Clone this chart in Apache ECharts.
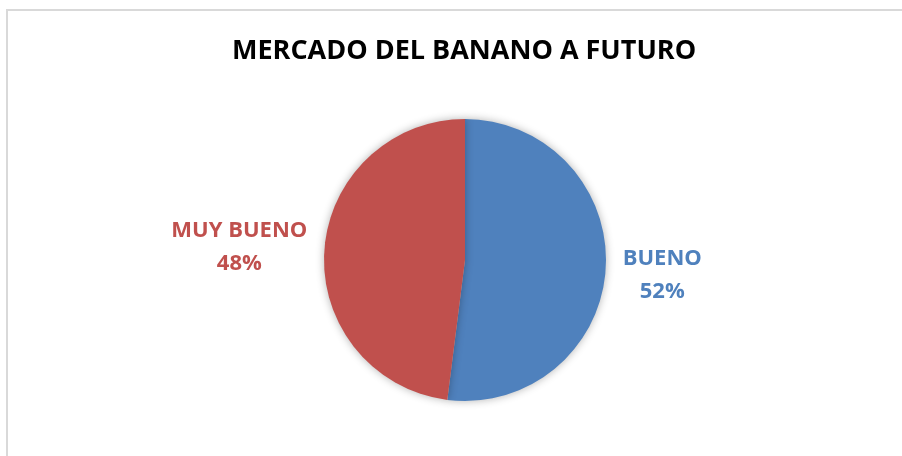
<!DOCTYPE html>
<html>
<head>
<meta charset="utf-8">
<script src="https://cdn.jsdelivr.net/npm/echarts@6/dist/echarts.min.js"></script>
<style>
  html, body { margin: 0; padding: 0; background: #fff; }
  #chart { width: 902px; height: 456px; }
</style>
</head>
<body>
<div id="chart"></div>
<script>
const categories = ['BUENO', 'MUY BUENO'];
const shares = [52, 48];
const colors = ['#4F81BD', '#C0504D'];
// small vertical nudges so labels sit where Excel put them
const labelNudge = [6, -3];

const chart = echarts.init(document.getElementById('chart'));

chart.setOption({
  backgroundColor: '#fff',
  animation: false,
  graphic: [{
    type: 'rect',
    silent: true,
    shape: { x: 7, y: 10, width: 1000, height: 1000 },
    style: { fill: 'none', stroke: '#d9d9d9', lineWidth: 2 }
  }],
  title: {
    text: 'MERCADO DEL BANANO A FUTURO',
    left: 227,
    top: 33,
    textStyle: {
      fontFamily: 'Open Sans',
      fontWeight: 'bold',
      fontSize: 27,
      color: '#000'
    }
  },
  series: [{
    type: 'pie',
    center: [465, 260],
    radius: 141,
    startAngle: 90,
    clockwise: true,
    data: categories.map((name, i) => ({
      name,
      value: shares[i],
      itemStyle: { color: colors[i] },
      label: { color: colors[i] }
    })),
    itemStyle: {
      borderWidth: 0,
      shadowBlur: 8,
      shadowColor: 'rgba(0,0,0,0.3)'
    },
    label: {
      position: 'outside',
      formatter: '{a|{b}}\n{a|{d}%}',
      fontFamily: 'Open Sans',
      fontWeight: 'bold',
      fontSize: 22,
      lineHeight: 33,
      rich: {
        a: {
          align: 'center',
          fontFamily: 'Open Sans',
          fontWeight: 'bold',
          fontSize: 22,
          lineHeight: 33
        }
      }
    },
    labelLine: { show: false, length: 8, length2: 4 },
    labelLayout: (params) => ({ dy: labelNudge[params.dataIndex] }),
    emphasis: { disabled: true }
  }]
});
</script>
</body>
</html>
